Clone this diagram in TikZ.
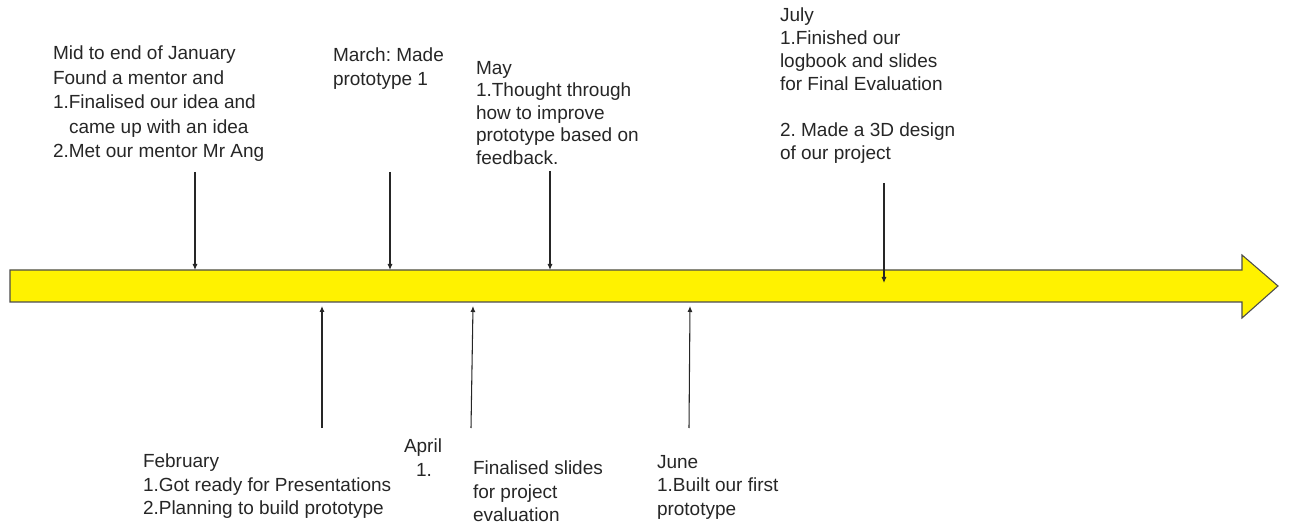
\documentclass[tikz,border=0pt]{standalone}
\usepackage{fontspec}
\setmainfont{Liberation Sans}
\usetikzlibrary{arrows.meta}
\usepackage{xcolor}
\frenchspacing
\newcommand{\event}[5] {
    \coordinate (#1-from) at ({#2}, {#3});
    \coordinate (#1-to) at ({#4}, {#5});
    \draw[eventline] (#1-from) -- (#1-to);
}
\tikzset{
    eventline/.style={
        draw=black!85,
        line width=0.8pt,
        -{Latex[length=4.5pt,width=3.8pt]}
    },
    note/.style={
        anchor=north west,
        inner sep=0mm,
        outer sep=0mm,
        align=left,
        text=black!85,
        font=\fontsize{14.25}{17.6}\selectfont
    },
    timeline/.style={
        fill=yellow,
        draw=black!70,
        line width=0.8pt
    }
}

\begin{document}
\begin{tikzpicture}[x=0.75pt,y=-0.75pt]
        \useasboundingbox (0,0) rectangle (1289,527);
        % the yellow time arrow
        \draw[timeline] (10,270) -- (1242,270) -- (1242,255) -- (1278,286)
            -- (1242,318) -- (1242,302) -- (10,302) -- cycle;
        % above the arrow
        \node[note,font=\fontsize{14.25}{18.4}\selectfont] (jan) at (53,46) {Mid to end of January\\Found a mentor and\\1.Finalised our idea and\\\hspace*{12pt}came up with an idea\\2.Met our mentor Mr Ang};
        \node[note] (mar) at (333,48) {March: Made\\prototype 1};
        \node[note,font=\fontsize{14.25}{16.9}\selectfont] (may) at (476,61) {May\\1.Thought through\\how to improve\\prototype based on\\feedback.};
        \node[note,font=\fontsize{14.25}{17.2}\selectfont] (jul) at (780,8) {July\\1.Finished our\\logbook and slides\\for Final Evaluation\\[17.2pt]2. Made a 3D design\\of our project};
        \event{jan}{195}{172}{195}{270}
        \event{mar}{390}{172}{390}{270}
        \event{may}{550}{171}{550}{270}
        \event{jul}{884}{183}{884}{283}
        % below the arrow
        \node[note] (feb) at (143,454) {February\\1.Got ready for Presentations\\2.Planning to build prototype};
        \node[note] (apr) at (404,439) {April};
        \node[note] (apr-num) at (416,463) {1.};
        \node[note] (apr-text) at (473,461) {Finalised slides\\for project\\evaluation};
        \node[note] (jun) at (657,455) {June\\1.Built our first\\prototype};
        \event{feb}{322}{428}{322}{306}
        \event{apr}{471}{428}{473}{306}
        \event{jun}{689}{428}{690}{306}
    \end{tikzpicture}
\end{document}
